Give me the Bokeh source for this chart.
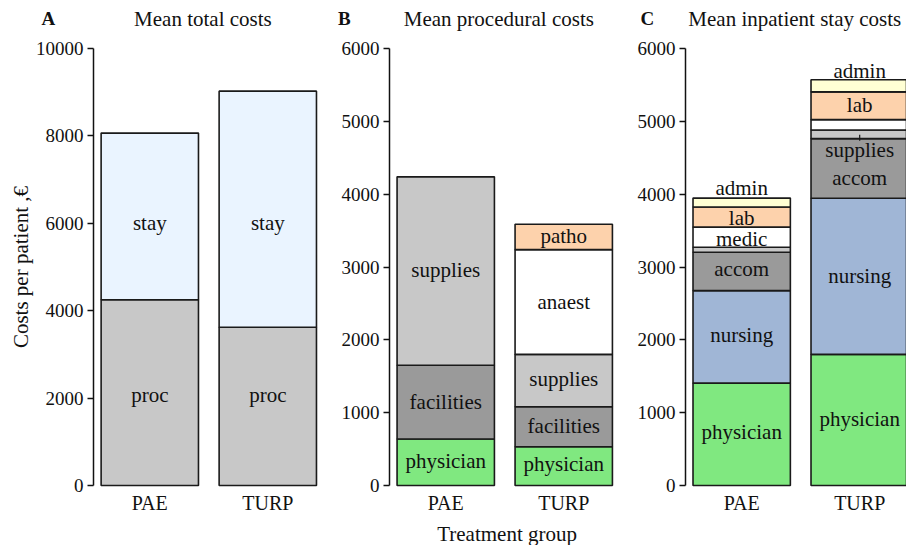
from bokeh.plotting import figure
from bokeh.models import (ColumnDataSource, Range1d, FixedTicker, Label, LinearAxis)
from bokeh.embed import file_html
from bokeh.resources import INLINE
from bokeh.core.properties import value

groups = ["PAE", "TURP"]

# Panel A: mean total costs
a_items = ["proc", "stay"]
a_pae = [4250, 3814]
a_turp = [3620, 5404]
a_label_y = [2080, 6000]

# Panel B: mean procedural costs
b_pae_items = ["physician", "facilities", "supplies"]
b_pae = [638, 1014, 2586]
b_pae_label_y = [343, 1143, 2962]
b_turp_items = ["physician", "facilities", "supplies", "anaest", "patho"]
b_turp = [533, 548, 719, 1438, 348]
b_turp_label_y = [295, 819, 1467, 2524, 3429]

# Panel C: mean inpatient stay costs
c_items = ["physician", "nursing", "accom", "supplies", "medic", "lab", "admin"]
c_pae = [1405, 1271, 527, 69, 276, 276, 122]
c_turp = [1800, 2143, 819, 119, 143, 381, 166]
c_pae_labels = ["physician", "nursing", "accom", "medic", "lab", "admin"]
c_pae_label_y = [730, 2060, 2970, 3390, 3675, 4085]
c_turp_labels = ["physician", "nursing", "accom", "supplies", "lab", "admin"]
c_turp_label_y = [910, 2880, 4225, 4610, 5225, 5685]
c_turp_leader = [4735, 4815]

panel_letters = ["A", "B", "C"]
panel_titles = ["Mean total costs", "Mean procedural costs", "Mean inpatient stay costs"]
panel_max = [10000, 6000, 6000]
panel_step = [2000, 1000, 1000]

colors = {
    "proc": "#c8c8c8", "stay": "#eaf4ff",
    "physician": "#80e880", "facilities": "#9a9a9a", "supplies": "#c8c8c8",
    "anaest": "#ffffff", "patho": "#fdd2ac",
    "nursing": "#a0b6d6", "accom": "#9a9a9a", "medic": "#ffffff",
    "lab": "#fdd2ac", "admin": "#ffffd4",
}

# ---- layout constants (pixels / slot units) ----
FONT = "Liberation Serif"
W, H = 906, 545
UNIT = 118.0           # px per slot (distance between bar centres)
GAP = 0.508            # extra slots between panels
FIRST_PX = 149.3       # px of first bar centre
ZERO_PX = 485          # px (from top) of the zero line
AXIS_PX = 437          # px from 0 to the axis maximum
BAR_W = 0.825
AXIS_OFF = 0.477       # slots from axis to first bar centre

x_start = 1 - FIRST_PX / UNIT
x_end = x_start + W / UNIT


def yr(ymax):
    per_px = ymax / AXIS_PX
    return Range1d(-(H - ZERO_PX) * per_px, ZERO_PX * per_px)


p = figure(width=W, height=H, output_backend="svg", toolbar_location=None,
           x_range=Range1d(x_start, x_end), y_range=yr(panel_max[0]),
           x_axis_type=None, y_axis_type=None, min_border=0, title=None)
p.extra_y_ranges = {"bc": yr(panel_max[1])}
p.outline_line_color = None
p.grid.visible = False
p.background_fill_color = "white"
p.border_fill_color = "white"

range_names = ["default", "bc", "bc"]
panel_stacks = [
    [(a_items, a_pae), (a_items, a_turp)],
    [(b_pae_items, b_pae), (b_turp_items, b_turp)],
    [(c_items, c_pae), (c_items, c_turp)],
]
panel_labels = [
    [(a_items, a_label_y), (a_items, a_label_y)],
    [(b_pae_items, b_pae_label_y), (b_turp_items, b_turp_label_y)],
    [(c_pae_labels, c_pae_label_y), (c_turp_labels, c_turp_label_y)],
]

tick_pos = []
tick_text = {}
for k in range(3):
    first = 1 + k * (2 + GAP)
    rn = range_names[k]
    for j in range(2):
        pos = first + j
        tick_pos.append(pos)
        tick_text[pos] = groups[j]
        items, vals = panel_stacks[k][j]
        xs, bottoms, tops, cols = [], [], [], []
        base = 0
        for it, v in zip(items, vals):
            xs.append(pos)
            bottoms.append(base)
            tops.append(base + v)
            cols.append(colors[it])
            base += v
        src = ColumnDataSource(dict(x=xs, bottom=bottoms, top=tops, color=cols))
        p.vbar(x="x", bottom="bottom", top="top", width=BAR_W, fill_color="color",
               line_color="#1a1a1a", line_width=1.6, source=src, y_range_name=rn)
        texts, ys = panel_labels[k][j]
        p.text(x=[pos] * len(texts), y=ys, text=texts, text_align="center",
               text_baseline="middle", text_font=value(FONT), text_font_size="21px",
               text_color="#111111", y_range_name=rn)

    ymax = panel_max[k]
    ax = LinearAxis(y_range_name=rn, fixed_location=first - AXIS_OFF,
                    ticker=FixedTicker(ticks=list(range(0, ymax + 1, panel_step[k]))),
                    bounds=(0, ymax))
    ax.minor_tick_line_color = None
    ax.major_tick_in = 0
    ax.major_tick_out = 6
    ax.major_tick_line_width = 1.5
    ax.axis_line_width = 1.5
    ax.axis_line_color = "#111111"
    ax.major_tick_line_color = "#111111"
    ax.major_label_text_font = FONT
    ax.major_label_text_font_size = "19px"
    ax.major_label_text_color = "#111111"
    ax.major_label_standoff = 4
    if k == 0:
        ax.axis_label = "Costs per patient ,€"
        ax.axis_label_text_font = FONT
        ax.axis_label_text_font_size = "21px"
        ax.axis_label_text_font_style = "normal"
        ax.axis_label_text_color = "#111111"
        ax.axis_label_standoff = 0
    p.add_layout(ax, "left")

    top_y = ymax * (ZERO_PX - 18) / AXIS_PX
    p.add_layout(Label(x=first + 0.45, y=top_y, y_range_name=rn, text=panel_titles[k],
                       text_align="center", text_baseline="middle", text_font=FONT,
                       text_font_size="21px", text_color="#111111"))
    p.add_layout(Label(x=first - (0.86 if k < 2 else 0.80), y=top_y, y_range_name=rn,
                       text=panel_letters[k], text_align="center", text_baseline="middle",
                       text_font=FONT, text_font_size="19px", text_font_style="bold",
                       text_color="#111111"))

# leader line for the "supplies" label in panel C, TURP
c_turp_pos = 1 + 2 * (2 + GAP) + 1
p.segment(x0=[c_turp_pos], y0=[c_turp_leader[0]], x1=[c_turp_pos], y1=[c_turp_leader[1]],
          line_color="#1a1a1a", line_width=1.2, y_range_name="bc")

# category axis along the zero line
xa = LinearAxis(fixed_location=0, ticker=FixedTicker(ticks=tick_pos),
                major_label_overrides=tick_text)
xa.axis_line_color = None
xa.major_tick_line_color = None
xa.major_tick_in = 0
xa.major_tick_out = 0
xa.minor_tick_line_color = None
xa.major_label_text_font = FONT
xa.major_label_text_font_size = "20px"
xa.major_label_text_color = "#111111"
xa.major_label_standoff = 6
p.add_layout(xa, "below")

# shared x-axis title under panel B
p.add_layout(Label(x=1 + (2 + GAP) + 0.52, y=-(533 - ZERO_PX) * panel_max[1] / AXIS_PX,
                   y_range_name="bc", text="Treatment group", text_align="center",
                   text_baseline="middle", text_font=FONT, text_font_size="21px",
                   text_color="#111111"))

open("out.html", "w").write(file_html(p, INLINE))
